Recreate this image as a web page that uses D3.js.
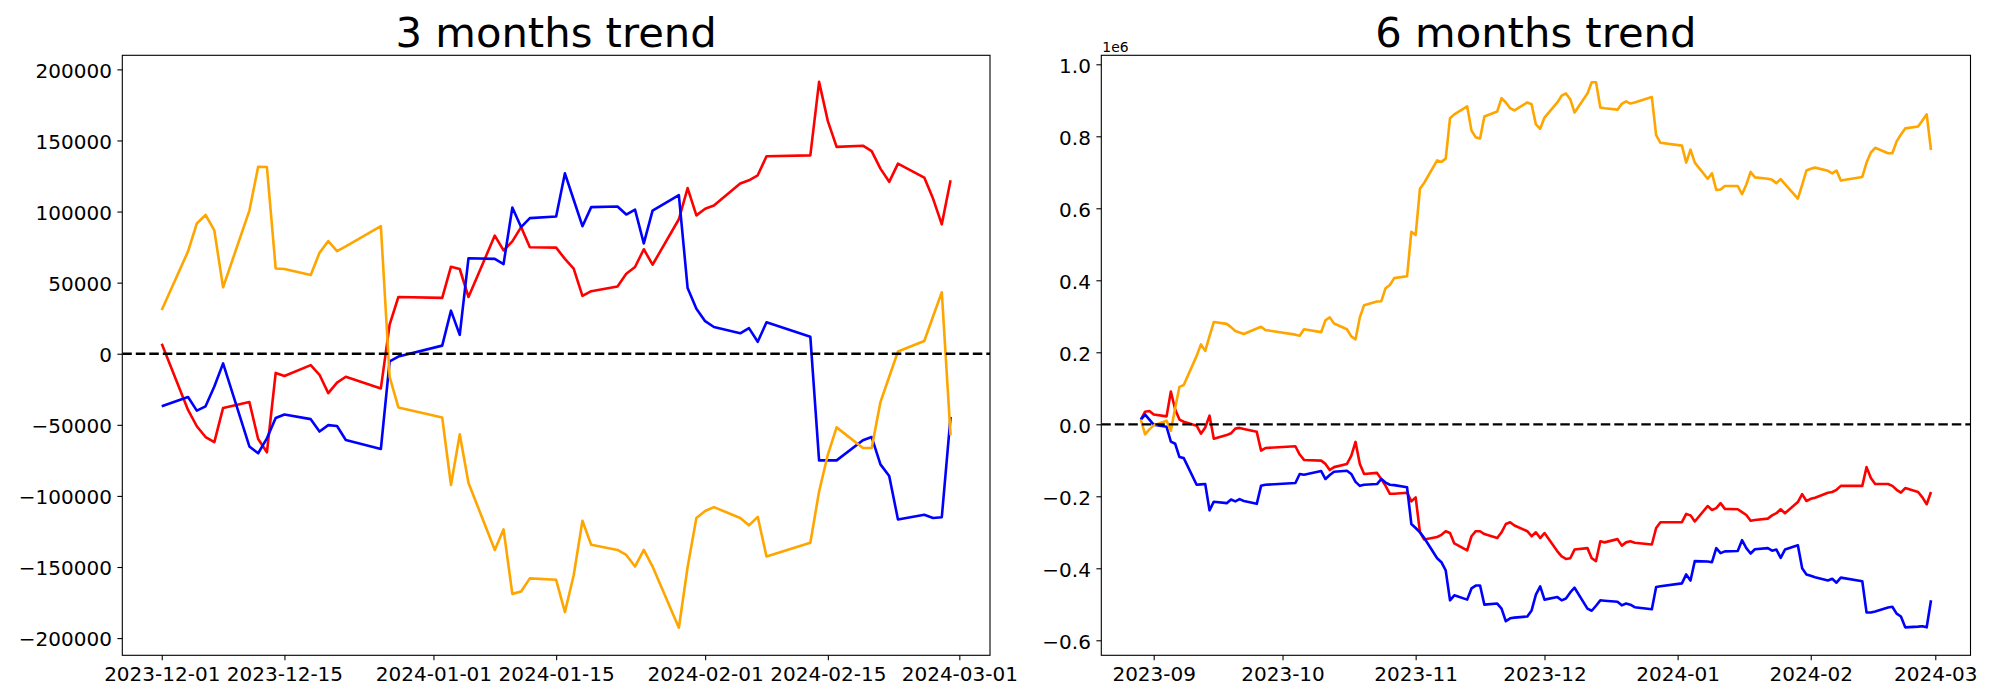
<!DOCTYPE html>
<html><head><meta charset="utf-8">
<script src="https://cdn.jsdelivr.net/npm/d3@7"></script>
<style>
body{margin:0;background:#fff;}
svg text{font-family:"DejaVu Sans",sans-serif;fill:#000;}
</style></head><body>
<svg id="chart" width="2000" height="700"></svg>
<script>
// ---------- DATA ----------
const tradingDates = [
"2023-08-29","2023-08-30","2023-08-31","2023-09-01",
"2023-09-04","2023-09-05","2023-09-06","2023-09-07","2023-09-08",
"2023-09-11","2023-09-12","2023-09-13","2023-09-14","2023-09-15",
"2023-09-18","2023-09-19","2023-09-20","2023-09-21","2023-09-22",
"2023-09-25","2023-09-26","2023-09-27",
"2023-10-04","2023-10-05","2023-10-06",
"2023-10-10","2023-10-11","2023-10-12","2023-10-13",
"2023-10-16","2023-10-17","2023-10-18","2023-10-19","2023-10-20",
"2023-10-23","2023-10-24","2023-10-25","2023-10-26","2023-10-27",
"2023-10-30","2023-10-31","2023-11-01","2023-11-02","2023-11-03",
"2023-11-06","2023-11-07","2023-11-08","2023-11-09","2023-11-10",
"2023-11-13","2023-11-14","2023-11-15","2023-11-16","2023-11-17",
"2023-11-20","2023-11-21","2023-11-22","2023-11-23","2023-11-24",
"2023-11-27","2023-11-28","2023-11-29","2023-11-30","2023-12-01",
"2023-12-04","2023-12-05","2023-12-06","2023-12-07","2023-12-08",
"2023-12-11","2023-12-12","2023-12-13","2023-12-14","2023-12-15",
"2023-12-18","2023-12-19","2023-12-20","2023-12-21","2023-12-22",
"2023-12-26","2023-12-27","2023-12-28",
"2024-01-02","2024-01-03","2024-01-04","2024-01-05",
"2024-01-08","2024-01-09","2024-01-10","2024-01-11","2024-01-12",
"2024-01-15","2024-01-16","2024-01-17","2024-01-18","2024-01-19",
"2024-01-22","2024-01-23","2024-01-24","2024-01-25","2024-01-26",
"2024-01-29","2024-01-30","2024-01-31","2024-02-01","2024-02-02",
"2024-02-05","2024-02-06","2024-02-07","2024-02-08",
"2024-02-13","2024-02-14","2024-02-15","2024-02-16",
"2024-02-19","2024-02-20","2024-02-21","2024-02-22","2024-02-23",
"2024-02-26","2024-02-27","2024-02-28","2024-02-29"];

// 3-month panel (starts 2023-12-01)
const start3m = "2023-12-01";
const red3m = [7000,-39500,-51000,-58600,-62200,-38100,-34000,-60000,-69300,-13500,-15700,-8000,-14800,-27700,-20300,-16200,-24400,20500,39900,
39300,61200,59600,39900,83100,72700,79000,89100,74900,74600,66700,59900,40700,44000,47300,56300,61000,73500,62600,94600,116500,97300,
102000,104200,119800,122000,125500,138900,139500,191200,163600,145500,146300,142500,130200,120900,133700,123900,109100,91000,122000];
const blue3m = [-37000,-30400,-40000,-37000,-23100,-6800,-65200,-70000,-59500,-45200,-42700,-46000,-54700,-50200,-50800,-60700,-67000,-5300,-2000,
5700,30300,13300,67200,66700,63100,102800,89100,95400,96500,126900,108300,89700,103100,103600,97900,101400,77600,100600,111600,46200,31700,
22900,18800,14400,18000,8400,22100,12000,-75000,-75000,-75000,-60800,-58600,-77800,-86000,-116600,-113300,-115500,-115000,-44400];
const orange3m = [30800,72000,91600,97600,86700,46700,100700,131500,131300,60000,59600,55400,71000,79200,72200,75500,89800,-16200,-37800,
-44900,-92300,-56700,-90900,-138000,-123500,-168900,-167200,-158000,-159000,-181700,-155800,-117500,-134400,-138000,-141500,-149700,-138000,-149700,-192700,-150000,-115500,
-110600,-107900,-115500,-120700,-114700,-142600,-133000,-96900,-70900,-51800,-66300,-66300,-34000,-16200,1600,9000,26200,43200,-57200];

// 6-month panel
const red6m = [13000,35000,37000,27000,22000,91000,41000,13000,7000,-4000,-26000,-9000,24000,-40000,-30000,-25000,-12000,-10000,-13000,-21000,-73000,-66000,
-61000,-84000,-99000,-101000,-110000,-127000,-119000,-110000,-88000,-49000,-110000,-138000,-135000,-152000,-171000,-193000,-193000,-190000,-214000,
-203000,-300000,-320000,-313000,-307000,-297000,-302000,-331000,-350000,-311000,-297000,-297000,-305000,-316000,-300000,-277000,-272000,-281000,-297000,-311000,-300000,-316000,
-302000,-353000,-367000,-374000,-372000,-348000,-344000,-372000,-380000,-325000,-328000,-319000,-337000,-328000,-325000,-329000,-334000,-288000,-272000,
-272000,-249000,-253000,-270000,-227000,-238000,-233000,-219000,-235000,-236000,-244000,-252000,-268000,-266000,-262000,-253000,-247000,-236000,-247000,-216000,-194000,-213000,
-207000,-204000,-190000,-188000,-182000,-171000,-171000,-119000,-149000,-166000,-166000,-171000,-182000,-190000,-177000,-188000,-203000,-222000,-188000];
const blue6m = [13000,27000,13000,-1000,-7000,-48000,-54000,-91000,-94000,-168000,-167000,-166000,-239000,-215000,-219000,-209000,-214000,-208000,-213000,-221000,-171000,-168000,
-163000,-138000,-140000,-130000,-152000,-141000,-132000,-129000,-138000,-160000,-171000,-168000,-166000,-152000,-162000,-168000,-169000,-175000,-277000,
-288000,-300000,-316000,-372000,-383000,-406000,-489000,-475000,-487000,-456000,-448000,-448000,-501000,-498000,-512000,-547000,-539000,-537000,-534000,-517000,-473000,-450000,
-487000,-480000,-489000,-484000,-467000,-454000,-512000,-518000,-504000,-489000,-490000,-493000,-503000,-498000,-501000,-508000,-514000,-452000,-450000,
-442000,-417000,-434000,-380000,-381000,-383000,-344000,-358000,-353000,-352000,-322000,-344000,-359000,-347000,-344000,-351000,-348000,-371000,-348000,-336000,-400000,-417000,
-421000,-425000,-434000,-429000,-440000,-426000,-436000,-523000,-523000,-520000,-509000,-507000,-526000,-534000,-564000,-562000,-561000,-564000,-489000];
const orange6m = [13000,-28000,-14000,-3000,10000,-18000,45000,104000,109000,190000,222000,204000,245000,284000,279000,270000,259000,255000,251000,266000,271000,262000,
249000,246000,264000,256000,289000,297000,280000,264000,244000,236000,297000,331000,341000,342000,378000,387000,406000,411000,535000,
526000,654000,671000,733000,729000,738000,850000,861000,883000,816000,797000,794000,855000,869000,906000,894000,878000,872000,894000,889000,833000,821000,
852000,894000,913000,919000,903000,866000,919000,950000,950000,880000,878000,874000,890000,897000,891000,894000,909000,803000,782000,
774000,727000,763000,727000,682000,697000,651000,652000,662000,662000,639000,666000,701000,686000,682000,679000,670000,681000,667000,627000,665000,705000,
710000,713000,704000,697000,705000,677000,687000,727000,755000,768000,753000,753000,786000,805000,822000,827000,844000,861000,762000];

const titles = ["3 months trend", "6 months trend"];
const xTicks3m = ["2023-12-01","2023-12-15","2024-01-01","2024-01-15","2024-02-01","2024-02-15","2024-03-01"];
const xTicks6m = ["2023-09-01","2023-10-01","2023-11-01","2023-12-01","2024-01-01","2024-02-01","2024-03-01"];
const yTicks3m = [-200000,-150000,-100000,-50000,0,50000,100000,150000,200000];
const yTicks6m = [-600000,-400000,-200000,0,200000,400000,600000,800000,1000000];
const seriesColors = {red:"#ff0000", blue:"#0000ff", orange:"#ffa500"};

// ---------- DRAW ----------
const parse = d3.utcParse("%Y-%m-%d");
const svg = d3.select("#chart");
svg.append("rect").attr("width",2000).attr("height",700).attr("fill","#fff");

const i3 = tradingDates.indexOf(start3m);
const dates3m = tradingDates.slice(i3).map(parse);
const dates6m = tradingDates.map(parse);

const TOP = 55.3, BOTTOM = 655.3;
const LW = 2.6;

function panel(cfg){
  const {left, right, dates, series, yDomain, yTicks, yFmt, xTicks, xFmt, title, offsetText} = cfg;
  const d0 = dates[0], d1 = dates[dates.length-1];
  const pad = (d1 - d0) * 0.05;
  const x = d3.scaleUtc().domain([new Date(+d0 - pad), new Date(+d1 + pad)]).range([left, right]);
  const y = d3.scaleLinear().domain(yDomain).range([BOTTOM, TOP]);
  const g = svg.append("g");

  const clipId = "clip" + Math.round(left);
  g.append("clipPath").attr("id", clipId).append("rect")
    .attr("x", left).attr("y", TOP).attr("width", right-left).attr("height", BOTTOM-TOP);

  const line = d3.line().x((d,i)=>x(dates[i])).y(d=>y(d));
  const plot = g.append("g").attr("clip-path", `url(#${clipId})`);
  series.forEach(s=>{
    plot.append("path").datum(s.values)
      .attr("d", line).attr("fill","none")
      .attr("stroke", s.color).attr("stroke-width", LW)
      .attr("stroke-linejoin","round").attr("stroke-linecap","butt");
  });
  plot.append("line")
    .attr("x1", left).attr("x2", right).attr("y1", y(0)).attr("y2", y(0))
    .attr("stroke","#000").attr("stroke-width",2.3).attr("stroke-dasharray","9.5,4");

  // axes
  const xAxis = d3.axisBottom(x).tickValues(xTicks.map(parse)).tickFormat(xFmt)
    .tickSizeInner(4.9).tickSizeOuter(0).tickPadding(4.9);
  const gx = g.append("g").attr("transform", `translate(0,${BOTTOM})`).call(xAxis);
  gx.select(".domain").remove();
  gx.selectAll("line").attr("stroke","#000").attr("stroke-width",1.1);
  gx.selectAll("text").attr("font-size",20).attr("font-family","DejaVu Sans").attr("dy","0.8em").attr("fill","#000");

  const yAxis = d3.axisLeft(y).tickValues(yTicks).tickFormat(yFmt)
    .tickSizeInner(4.9).tickSizeOuter(0).tickPadding(5.5);
  const gy = g.append("g").attr("transform", `translate(${left},0)`).call(yAxis);
  gy.select(".domain").remove();
  gy.selectAll("line").attr("stroke","#000").attr("stroke-width",1.1);
  gy.selectAll("text").attr("font-size",20).attr("font-family","DejaVu Sans").attr("dy","0.39em").attr("fill","#000");

  g.append("rect").attr("x", left).attr("y", TOP).attr("width", right-left).attr("height", BOTTOM-TOP)
    .attr("fill","none").attr("stroke","#000").attr("stroke-width",1.1);

  g.append("text").attr("x", (left+right)/2).attr("y", 47).attr("text-anchor","middle")
    .attr("font-size", 41.7).text(title);

  if (offsetText) {
    g.append("text").attr("x", left+1).attr("y", 51.5).attr("font-size", 13.9).text(offsetText);
  }
}

const minus = s => s.replace("-", "\u2212");

panel({
  left:122.3, right:990, dates:dates3m,
  series:[{values:red3m,color:seriesColors.red},{values:blue3m,color:seriesColors.blue},{values:orange3m,color:seriesColors.orange}],
  yDomain:[-212100, 209900], yTicks:yTicks3m, yFmt:d=>minus(String(d)),
  xTicks:xTicks3m, xFmt:d3.utcFormat("%Y-%m-%d"), title:titles[0]
});
panel({
  left:1101.3, right:1970.5, dates:dates6m,
  series:[{values:red6m,color:seriesColors.red},{values:blue6m,color:seriesColors.blue},{values:orange6m,color:seriesColors.orange}],
  yDomain:[-641700, 1025000], yTicks:yTicks6m, yFmt:d=>minus((d/1e6).toFixed(1)),
  xTicks:xTicks6m, xFmt:d3.utcFormat("%Y-%m"), title:titles[1], offsetText:"1e6"
});
</script>
</body></html>
